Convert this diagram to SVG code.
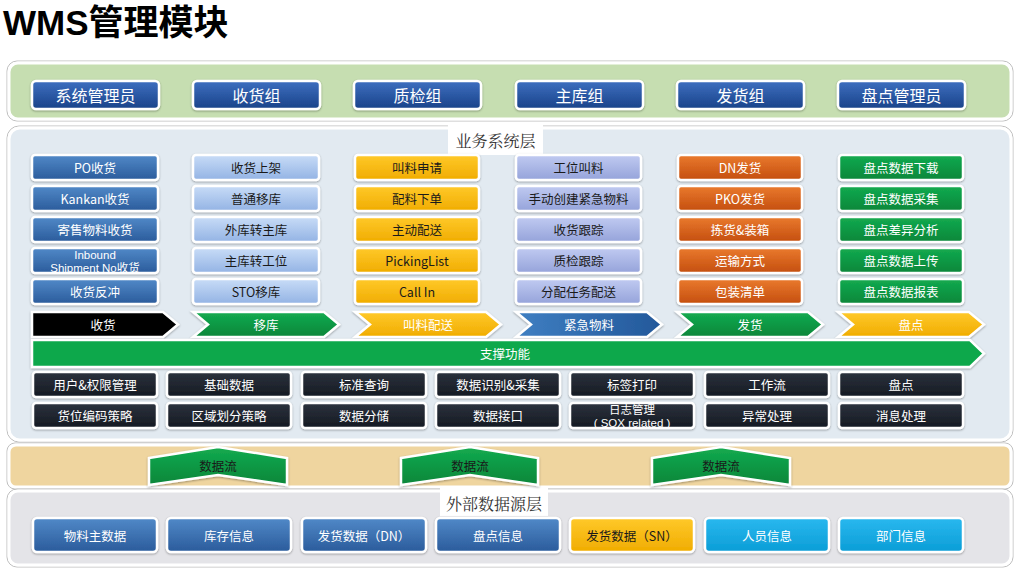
<svg xmlns="http://www.w3.org/2000/svg" width="1020" height="570" viewBox="0 0 1020 570">
<defs>
<linearGradient id="gRole" x1="0" y1="0" x2="0" y2="1"><stop offset="0" stop-color="#3d6fc0"/><stop offset="1" stop-color="#1a4289"/></linearGradient>
<linearGradient id="gBlue" x1="0" y1="0" x2="0" y2="1"><stop offset="0" stop-color="#5189c8"/><stop offset="1" stop-color="#2a5b9b"/></linearGradient>
<linearGradient id="gLight" x1="0" y1="0" x2="0" y2="1"><stop offset="0" stop-color="#c8dcf7"/><stop offset="1" stop-color="#93b3e4"/></linearGradient>
<linearGradient id="gYellow" x1="0" y1="0" x2="0" y2="1"><stop offset="0" stop-color="#ffc92a"/><stop offset="1" stop-color="#f0ac00"/></linearGradient>
<linearGradient id="gLav" x1="0" y1="0" x2="0" y2="1"><stop offset="0" stop-color="#c0caf1"/><stop offset="1" stop-color="#95a3da"/></linearGradient>
<linearGradient id="gOrange" x1="0" y1="0" x2="0" y2="1"><stop offset="0" stop-color="#ea7a2e"/><stop offset="1" stop-color="#c44e0e"/></linearGradient>
<linearGradient id="gGreen" x1="0" y1="0" x2="0" y2="1"><stop offset="0" stop-color="#14ab50"/><stop offset="1" stop-color="#068639"/></linearGradient>
<linearGradient id="gDark" x1="0" y1="0" x2="0" y2="1"><stop offset="0" stop-color="#2c323d"/><stop offset="1" stop-color="#151a22"/></linearGradient>
<linearGradient id="gCyan" x1="0" y1="0" x2="0" y2="1"><stop offset="0" stop-color="#2ab8ef"/><stop offset="1" stop-color="#0a9dd6"/></linearGradient>
<linearGradient id="gChevBlue" x1="0" y1="0" x2="1" y2="0"><stop offset="0" stop-color="#3f7fc2"/><stop offset="1" stop-color="#23589a"/></linearGradient>
<filter id="sh" x="-10%" y="-20%" width="120%" height="150%"><feDropShadow dx="0" dy="1" stdDeviation="1" flood-color="#000" flood-opacity="0.35"/></filter>
<style>
.panel{stroke:#ffffff;stroke-width:3}
.pout{fill:none;stroke:#bfbfbf;stroke-width:1}
.b{stroke:#ffffff;stroke-width:2.5;filter:url(#sh)}
.t{font-family:"Noto Sans CJK SC","Liberation Sans",sans-serif;font-size:12.5px;text-anchor:middle;dominant-baseline:central}
.sm{font-family:"Liberation Sans","Noto Sans CJK SC",sans-serif;font-size:11.5px;dominant-baseline:auto}
.w{fill:#ffffff}
.k{fill:#1a1a1a}
.role{font-size:16px}
.lbl{font-family:"Noto Serif CJK SC","Noto Sans CJK SC",serif;font-size:16px;fill:#333333;text-anchor:middle;dominant-baseline:central}
.title{font-family:"Liberation Sans","Noto Sans CJK SC",sans-serif;font-size:35px;font-weight:bold;fill:#000000}
</style>
</defs>
<rect width="1020" height="570" fill="#ffffff"/>
<text class="title" x="3" y="35">WMS管理模块</text>

<!-- panels -->
<g id="panel-roles">
<rect x="7" y="61" width="1006" height="60" rx="10" class="pout"/>
<rect x="9" y="63" width="1002" height="56" rx="9" fill="#c6deb1" class="panel"/>
</g>
<g id="panel-business">
<rect x="7" y="126" width="1006" height="316" rx="12" class="pout"/>
<rect x="9" y="128" width="1002" height="312" rx="11" fill="#e2eaf1" class="panel"/>
<rect x="448" y="125" width="95" height="30" fill="#ffffff"/>
<text class="lbl" x="495.5" y="140">业务系统层</text>
</g>
<g id="panel-flow">
<rect x="7" y="443" width="1006" height="46" rx="8" class="pout"/>
<rect x="9" y="445" width="1002" height="42" rx="7" fill="#efd59f" class="panel"/>
</g>
<g id="panel-external">
<rect x="7" y="489" width="1006" height="78" rx="10" class="pout"/>
<rect x="9" y="491" width="1002" height="74" rx="9" fill="#e4e4e8" class="panel"/>
<rect x="440" y="488" width="108" height="28" fill="#ffffff"/>
<text class="lbl" x="494" y="503">外部数据源层</text>
</g>

<!-- roles -->
<g id="roles">
<g id="role-1"><rect class="b" x="32" y="81" width="127" height="28" rx="4" fill="url(#gRole)"/><text class="t w role" x="95.5" y="95">系统管理员</text></g>
<g id="role-2"><rect class="b" x="193" y="81" width="127" height="28" rx="4" fill="url(#gRole)"/><text class="t w role" x="256.5" y="95">收货组</text></g>
<g id="role-3"><rect class="b" x="354" y="81" width="127" height="28" rx="4" fill="url(#gRole)"/><text class="t w role" x="417.5" y="95">质检组</text></g>
<g id="role-4"><rect class="b" x="516" y="81" width="127" height="28" rx="4" fill="url(#gRole)"/><text class="t w role" x="579.5" y="95">主库组</text></g>
<g id="role-5"><rect class="b" x="677" y="81" width="127" height="28" rx="4" fill="url(#gRole)"/><text class="t w role" x="740.5" y="95">发货组</text></g>
<g id="role-6"><rect class="b" x="838" y="81" width="127" height="28" rx="4" fill="url(#gRole)"/><text class="t w role" x="901.5" y="95">盘点管理员</text></g>
</g>

<!-- column 1 -->
<g id="col-receive">
<g id="n-po"><rect class="b" x="32" y="155" width="126" height="25" rx="3" fill="url(#gBlue)"/><text class="t w" x="95" y="167.5">PO收货</text></g>
<g id="n-kankan"><rect class="b" x="32" y="186" width="126" height="25" rx="3" fill="url(#gBlue)"/><text class="t w" x="95" y="198.5">Kankan收货</text></g>
<g id="n-consign"><rect class="b" x="32" y="217" width="126" height="25" rx="3" fill="url(#gBlue)"/><text class="t w" x="95" y="229.5">寄售物料收货</text></g>
<g id="n-inbound"><rect class="b" x="32" y="248" width="126" height="25" rx="3" fill="url(#gBlue)"/><text class="t w sm" x="95" y="258.5"><tspan x="95" y="258.5">Inbound</tspan><tspan x="95" y="271.5">Shipment No收货</tspan></text></g>
<g id="n-reverse"><rect class="b" x="32" y="279" width="126" height="25" rx="3" fill="url(#gBlue)"/><text class="t w" x="95" y="291.5">收货反冲</text></g>
</g>
<!-- column 2 -->
<g id="col-move">
<g id="n-putaway"><rect class="b" x="193" y="155" width="126" height="25" rx="3" fill="url(#gLight)"/><text class="t k" x="256" y="167.5">收货上架</text></g>
<g id="n-normal"><rect class="b" x="193" y="186" width="126" height="25" rx="3" fill="url(#gLight)"/><text class="t k" x="256" y="198.5">普通移库</text></g>
<g id="n-ext2main"><rect class="b" x="193" y="217" width="126" height="25" rx="3" fill="url(#gLight)"/><text class="t k" x="256" y="229.5">外库转主库</text></g>
<g id="n-main2ws"><rect class="b" x="193" y="248" width="126" height="25" rx="3" fill="url(#gLight)"/><text class="t k" x="256" y="260.5">主库转工位</text></g>
<g id="n-sto"><rect class="b" x="193" y="279" width="126" height="25" rx="3" fill="url(#gLight)"/><text class="t k" x="256" y="291.5">STO移库</text></g>
</g>
<!-- column 3 -->
<g id="col-call">
<g id="n-req"><rect class="b" x="355" y="155" width="124" height="25" rx="3" fill="url(#gYellow)"/><text class="t k" x="417" y="167.5">叫料申请</text></g>
<g id="n-order"><rect class="b" x="355" y="186" width="124" height="25" rx="3" fill="url(#gYellow)"/><text class="t k" x="417" y="198.5">配料下单</text></g>
<g id="n-active"><rect class="b" x="355" y="217" width="124" height="25" rx="3" fill="url(#gYellow)"/><text class="t k" x="417" y="229.5">主动配送</text></g>
<g id="n-picking"><rect class="b" x="355" y="248" width="124" height="25" rx="3" fill="url(#gYellow)"/><text class="t k" x="417" y="260.5">PickingList</text></g>
<g id="n-callin"><rect class="b" x="355" y="279" width="124" height="25" rx="3" fill="url(#gYellow)"/><text class="t k" x="417" y="291.5">Call In</text></g>
</g>
<!-- column 4 -->
<g id="col-urgent">
<g id="n-wscall"><rect class="b" x="516" y="155" width="125" height="25" rx="3" fill="url(#gLav)"/><text class="t k" x="578.5" y="167.5">工位叫料</text></g>
<g id="n-manual"><rect class="b" x="516" y="186" width="125" height="25" rx="3" fill="url(#gLav)"/><text class="t k" x="578.5" y="198.5">手动创建紧急物料</text></g>
<g id="n-rtrack"><rect class="b" x="516" y="217" width="125" height="25" rx="3" fill="url(#gLav)"/><text class="t k" x="578.5" y="229.5">收货跟踪</text></g>
<g id="n-qtrack"><rect class="b" x="516" y="248" width="125" height="25" rx="3" fill="url(#gLav)"/><text class="t k" x="578.5" y="260.5">质检跟踪</text></g>
<g id="n-assign"><rect class="b" x="516" y="279" width="125" height="25" rx="3" fill="url(#gLav)"/><text class="t k" x="578.5" y="291.5">分配任务配送</text></g>
</g>
<!-- column 5 -->
<g id="col-ship">
<g id="n-dn"><rect class="b" x="678" y="155" width="124" height="25" rx="3" fill="url(#gOrange)"/><text class="t w" x="740" y="167.5">DN发货</text></g>
<g id="n-pko"><rect class="b" x="678" y="186" width="124" height="25" rx="3" fill="url(#gOrange)"/><text class="t w" x="740" y="198.5">PKO发货</text></g>
<g id="n-pick"><rect class="b" x="678" y="217" width="124" height="25" rx="3" fill="url(#gOrange)"/><text class="t w" x="740" y="229.5">拣货&amp;装箱</text></g>
<g id="n-trans"><rect class="b" x="678" y="248" width="124" height="25" rx="3" fill="url(#gOrange)"/><text class="t w" x="740" y="260.5">运输方式</text></g>
<g id="n-pack"><rect class="b" x="678" y="279" width="124" height="25" rx="3" fill="url(#gOrange)"/><text class="t w" x="740" y="291.5">包装清单</text></g>
</g>
<!-- column 6 -->
<g id="col-count">
<g id="n-cdl"><rect class="b" x="839" y="155" width="124" height="25" rx="3" fill="url(#gGreen)"/><text class="t w" x="901" y="167.5">盘点数据下载</text></g>
<g id="n-ccol"><rect class="b" x="839" y="186" width="124" height="25" rx="3" fill="url(#gGreen)"/><text class="t w" x="901" y="198.5">盘点数据采集</text></g>
<g id="n-cdiff"><rect class="b" x="839" y="217" width="124" height="25" rx="3" fill="url(#gGreen)"/><text class="t w" x="901" y="229.5">盘点差异分析</text></g>
<g id="n-cup"><rect class="b" x="839" y="248" width="124" height="25" rx="3" fill="url(#gGreen)"/><text class="t w" x="901" y="260.5">盘点数据上传</text></g>
<g id="n-crep"><rect class="b" x="839" y="279" width="124" height="25" rx="3" fill="url(#gGreen)"/><text class="t w" x="901" y="291.5">盘点数据报表</text></g>
</g>

<!-- process chevrons -->
<g id="chevrons">
<g id="c-receive"><polygon class="b" points="32,312 163,312 178,324.5 163,337 32,337" fill="#000000"/><text class="t w" x="103" y="324.5">收货</text></g>
<g id="c-move"><polygon class="b" points="193,312 324,312 339,324.5 324,337 193,337 208,324.5" fill="url(#gGreen)"/><text class="t w" x="266" y="324.5">移库</text></g>
<g id="c-call"><polygon class="b" points="355,312 486,312 501,324.5 486,337 355,337 370,324.5" fill="url(#gYellow)"/><text class="t w" x="428" y="324.5">叫料配送</text></g>
<g id="c-urgent"><polygon class="b" points="516,312 647,312 662,324.5 647,337 516,337 531,324.5" fill="url(#gChevBlue)"/><text class="t w" x="589" y="324.5">紧急物料</text></g>
<g id="c-ship"><polygon class="b" points="677,312 808,312 823,324.5 808,337 677,337 692,324.5" fill="url(#gGreen)"/><text class="t w" x="750" y="324.5">发货</text></g>
<g id="c-count"><polygon class="b" points="838,312 969,312 984,324.5 969,337 838,337 853,324.5" fill="url(#gYellow)"/><text class="t w" x="911" y="324.5">盘点</text></g>
</g>

<!-- support bar -->
<g id="support">
<polygon class="b" points="32,340 970,340 984,353.5 970,367 32,367" fill="#0aa84b"/>
<text class="t w" x="505" y="353.5">支撑功能</text>
</g>

<!-- support functions -->
<g id="support-functions">
<g id="s1"><rect class="b" x="33" y="372" width="124" height="25" rx="3" fill="url(#gDark)"/><text class="t w" x="95" y="384.5">用户&amp;权限管理</text></g>
<g id="s2"><rect class="b" x="167" y="372" width="124" height="25" rx="3" fill="url(#gDark)"/><text class="t w" x="229" y="384.5">基础数据</text></g>
<g id="s3"><rect class="b" x="302" y="372" width="124" height="25" rx="3" fill="url(#gDark)"/><text class="t w" x="364" y="384.5">标准查询</text></g>
<g id="s4"><rect class="b" x="436" y="372" width="124" height="25" rx="3" fill="url(#gDark)"/><text class="t w" x="498" y="384.5">数据识别&amp;采集</text></g>
<g id="s5"><rect class="b" x="570" y="372" width="124" height="25" rx="3" fill="url(#gDark)"/><text class="t w" x="632" y="384.5">标签打印</text></g>
<g id="s6"><rect class="b" x="705" y="372" width="124" height="25" rx="3" fill="url(#gDark)"/><text class="t w" x="767" y="384.5">工作流</text></g>
<g id="s7"><rect class="b" x="839" y="372" width="124" height="25" rx="3" fill="url(#gDark)"/><text class="t w" x="901" y="384.5">盘点</text></g>
<g id="s8"><rect class="b" x="33" y="403" width="124" height="25" rx="3" fill="url(#gDark)"/><text class="t w" x="95" y="415.5">货位编码策略</text></g>
<g id="s9"><rect class="b" x="167" y="403" width="124" height="25" rx="3" fill="url(#gDark)"/><text class="t w" x="229" y="415.5">区域划分策略</text></g>
<g id="s10"><rect class="b" x="302" y="403" width="124" height="25" rx="3" fill="url(#gDark)"/><text class="t w" x="364" y="415.5">数据分储</text></g>
<g id="s11"><rect class="b" x="436" y="403" width="124" height="25" rx="3" fill="url(#gDark)"/><text class="t w" x="498" y="415.5">数据接口</text></g>
<g id="s12"><rect class="b" x="570" y="403" width="124" height="25" rx="3" fill="url(#gDark)"/><text class="t w sm" x="632" y="413.5"><tspan x="632" y="413.5">日志管理</tspan><tspan x="632" y="426.5">( SOX related )</tspan></text></g>
<g id="s13"><rect class="b" x="705" y="403" width="124" height="25" rx="3" fill="url(#gDark)"/><text class="t w" x="767" y="415.5">异常处理</text></g>
<g id="s14"><rect class="b" x="839" y="403" width="124" height="25" rx="3" fill="url(#gDark)"/><text class="t w" x="901" y="415.5">消息处理</text></g>
</g>

<!-- data flow arrows -->
<g id="connectors">
<g id="flow-1"><polygon class="b" points="149,458 218,447 287,458 287,485 218,475 149,485" fill="url(#gGreen)"/><text class="t k" x="218" y="465">数据流</text></g>
<g id="flow-2"><polygon class="b" points="401,458 470,447 538,458 538,485 470,475 401,485" fill="url(#gGreen)"/><text class="t k" x="470" y="465">数据流</text></g>
<g id="flow-3"><polygon class="b" points="652,458 721,447 790,458 790,485 721,475 652,485" fill="url(#gGreen)"/><text class="t k" x="721" y="465">数据流</text></g>
</g>

<!-- external data sources -->
<g id="external">
<g id="e1"><rect class="b" x="33" y="518" width="124" height="34" rx="4" fill="url(#gBlue)"/><text class="t w" x="95" y="535">物料主数据</text></g>
<g id="e2"><rect class="b" x="167" y="518" width="124" height="34" rx="4" fill="url(#gBlue)"/><text class="t w" x="229" y="535">库存信息</text></g>
<g id="e3"><rect class="b" x="302" y="518" width="124" height="34" rx="4" fill="url(#gBlue)"/><text class="t w" x="364" y="535">发货数据（DN）</text></g>
<g id="e4"><rect class="b" x="436" y="518" width="124" height="34" rx="4" fill="url(#gBlue)"/><text class="t w" x="498" y="535">盘点信息</text></g>
<g id="e5"><rect class="b" x="570" y="518" width="124" height="34" rx="4" fill="url(#gYellow)"/><text class="t k" x="632" y="535">发货数据（SN）</text></g>
<g id="e6"><rect class="b" x="705" y="518" width="124" height="34" rx="4" fill="url(#gCyan)"/><text class="t w" x="767" y="535">人员信息</text></g>
<g id="e7"><rect class="b" x="839" y="518" width="124" height="34" rx="4" fill="url(#gCyan)"/><text class="t w" x="901" y="535">部门信息</text></g>
</g>
</svg>
